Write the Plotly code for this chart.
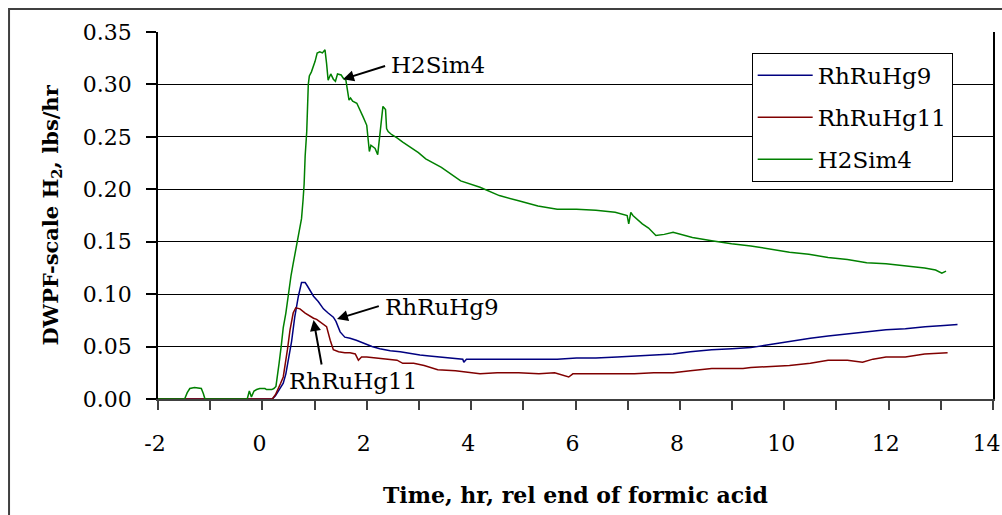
import plotly.graph_objects as go

# Time relative to end of formic acid addition (hr) and DWPF-scale H2 rate (lbs/hr)
rh9_time = [-2, 0.19, 0.25, 0.30, 0.35, 0.40, 0.45, 0.50, 0.56, 0.62, 0.69, 0.75, 0.82,
            0.86, 0.91, 0.98, 1.07, 1.17, 1.26, 1.36, 1.41, 1.45, 1.49, 1.58, 1.68, 1.80,
            1.95, 2.10, 2.25, 2.45, 2.64, 2.85, 3.02, 3.20, 3.43, 3.70, 3.84, 3.86, 3.91,
            4.2, 4.6, 4.91, 5.3, 5.65, 6.02, 6.39, 6.8, 7.13, 7.5, 7.87, 8.2, 8.61, 9.0,
            9.36, 9.73, 10.10, 10.5, 10.84, 11.2, 11.58, 11.95, 12.32, 12.7, 13.06, 13.32]
rh9_h2 = [0, 0, 0.003, 0.007, 0.011, 0.015, 0.024, 0.037, 0.055, 0.078, 0.098, 0.111, 0.111,
          0.108, 0.104, 0.098, 0.093, 0.086, 0.082, 0.078, 0.074, 0.069, 0.064, 0.059, 0.058,
          0.056, 0.053, 0.050, 0.048, 0.046, 0.045, 0.043, 0.042, 0.041, 0.040, 0.039, 0.038,
          0.035, 0.038, 0.038, 0.038, 0.038, 0.038, 0.038, 0.039, 0.039, 0.040, 0.041, 0.042,
          0.043, 0.045, 0.047, 0.048, 0.049, 0.052, 0.055, 0.058, 0.060, 0.062, 0.064, 0.066,
          0.067, 0.069, 0.070, 0.071]

rh11_time = [-2, 0.19, 0.25, 0.30, 0.35, 0.40, 0.44, 0.48, 0.53, 0.59, 0.64, 0.72, 0.82, 0.91,
             0.98, 1.04, 1.14, 1.23, 1.30, 1.36, 1.46, 1.58, 1.68, 1.78, 1.84, 1.90, 2.00,
             2.25, 2.58, 2.69, 2.90, 3.10, 3.36, 3.7, 4.0, 4.17, 4.5, 4.91, 5.3, 5.6, 5.87,
             5.95, 6.39, 6.8, 7.13, 7.5, 7.87, 8.2, 8.61, 8.9, 9.21, 9.36, 9.7, 10.10, 10.5,
             10.84, 11.21, 11.50, 11.7, 11.95, 12.32, 12.69, 13.13]
rh11_h2 = [0, 0, 0.004, 0.009, 0.015, 0.021, 0.032, 0.047, 0.066, 0.082, 0.087, 0.086, 0.082,
           0.079, 0.077, 0.076, 0.072, 0.069, 0.056, 0.047, 0.045, 0.044, 0.044, 0.043, 0.037,
           0.040, 0.040, 0.039, 0.037, 0.034, 0.034, 0.032, 0.028, 0.027, 0.025, 0.024, 0.025,
           0.025, 0.024, 0.025, 0.021, 0.024, 0.024, 0.024, 0.024, 0.025, 0.025, 0.027, 0.029,
           0.029, 0.029, 0.030, 0.031, 0.032, 0.034, 0.037, 0.037, 0.035, 0.038, 0.040, 0.040,
           0.043, 0.044]

sim4_time = [-2, -1.49, -1.44, -1.39, -1.30, -1.17, -1.13, -1.10, -0.29, -0.25, -0.21, -0.16,
             -0.11, -0.05, 0.05, 0.08, 0.18, 0.22, 0.26, 0.28, 0.32, 0.36, 0.40, 0.45, 0.50,
             0.55, 0.59, 0.64, 0.69, 0.75, 0.78, 0.80, 0.82, 0.85, 0.88, 0.90, 0.94, 1.01,
             1.05, 1.10, 1.15, 1.20, 1.23, 1.26, 1.31, 1.36, 1.40, 1.44, 1.51, 1.55, 1.60,
             1.63, 1.66, 1.69, 1.73, 1.81, 1.87, 1.93, 2.00, 2.03, 2.05, 2.08, 2.16, 2.21,
             2.26, 2.31, 2.36, 2.38, 2.41, 2.48, 2.58, 2.69, 2.99, 3.13, 3.43, 3.80, 4.17,
             4.54, 4.91, 5.28, 5.65, 6.02, 6.39, 6.76, 6.99, 7.02, 7.06, 7.10, 7.28, 7.40,
             7.54, 7.70, 7.87, 8.24, 8.61, 8.99, 9.36, 9.73, 10.10, 10.47, 10.84, 11.21,
             11.58, 11.95, 12.32, 12.69, 12.9, 13.02, 13.10]
sim4_h2 = [0, 0, 0.006, 0.010, 0.011, 0.010, 0.005, 0, 0, 0.0076, 0.002, 0.0076, 0.009, 0.010,
           0.010, 0.009, 0.009, 0.010, 0.012, 0.018, 0.034, 0.050, 0.068, 0.082, 0.102, 0.118,
           0.129, 0.143, 0.155, 0.172, 0.190, 0.205, 0.232, 0.255, 0.300, 0.308, 0.312, 0.322,
           0.330, 0.331, 0.330, 0.333, 0.320, 0.304, 0.310, 0.305, 0.303, 0.310, 0.309, 0.306,
           0.304, 0.296, 0.285, 0.287, 0.284, 0.282, 0.276, 0.269, 0.261, 0.247, 0.236, 0.242,
           0.239, 0.233, 0.257, 0.279, 0.276, 0.258, 0.255, 0.252, 0.249, 0.245, 0.235, 0.229,
           0.221, 0.208, 0.202, 0.194, 0.189, 0.184, 0.181, 0.181, 0.180, 0.178, 0.175, 0.167,
           0.178, 0.175, 0.167, 0.163, 0.156, 0.157, 0.159, 0.154, 0.151, 0.148, 0.146, 0.143,
           0.140, 0.138, 0.135, 0.133, 0.130, 0.129, 0.127, 0.125, 0.123, 0.120, 0.122]

series_names = ["RhRuHg9", "RhRuHg11", "H2Sim4"]
series_colors = ["#000080", "#800000", "#008000"]

x_tick_vals = [-2, 0, 2, 4, 6, 8, 10, 12, 14]
x_tick_text = ["-2", "0", "2", "4", "6", "8", "10", "12", "14\u00a0"]

# Callout labels: (text, arrow tip x, tip y, arrow tail x, tail y, text x, text y)
callouts = [
    ("H2Sim4", 1.545, 0.305, 2.38, 0.318, 2.43, 0.319),
    ("RhRuHg9", 1.43, 0.0763, 2.26, 0.089, 2.32, 0.088),
    ("RhRuHg11", 0.98, 0.0753, 1.14, 0.0315, 0.47, 0.017),
]

SERIF = "DejaVu Serif"

fig = go.Figure()
for xs, ys, name, color in zip([rh9_time, rh11_time, sim4_time],
                               [rh9_h2, rh11_h2, sim4_h2],
                               series_names, series_colors):
    fig.add_trace(go.Scatter(x=xs, y=ys, mode="lines", name=name, legendgroup=name,
                             line=dict(color=color, width=1.5)))

for text, tx, ty, ax, ay, lx, ly in callouts:
    fig.add_annotation(x=tx, y=ty, ax=ax, ay=ay, xref="x", yref="y", axref="x", ayref="y",
                       text="", showarrow=True, arrowhead=2, arrowsize=1.1,
                       arrowwidth=2, arrowcolor="black", standoff=0, startstandoff=0)
    fig.add_annotation(x=lx, y=ly, xref="x", yref="y", text=text, showarrow=False,
                       xanchor="left", yanchor="middle",
                       font=dict(family=SERIF, size=23, color="black"))

# Axis titles
fig.add_annotation(x=0.5, y=-0.262, xref="paper", yref="paper",
                   text="<b>Time, hr, rel end of formic acid</b>", showarrow=False,
                   xanchor="center", yanchor="middle",
                   font=dict(family=SERIF, size=22, color="black"))
fig.add_annotation(x=-0.128, y=0.5, xref="paper", yref="paper",
                   text="<b>DWPF-scale H<sub>2</sub>, lbs/hr</b>", showarrow=False,
                   textangle=-90, xanchor="center", yanchor="middle",
                   font=dict(family=SERIF, size=21, color="black"))

# Outer chart frame
fig.add_shape(type="rect", xref="paper", yref="paper",
              x0=-0.1784, x1=1.02, y0=-0.35, y1=1.0627,
              line=dict(color="#404040", width=2), fillcolor="rgba(0,0,0,0)", layer="below")

fig.update_layout(
    width=1002, height=515,
    margin=dict(l=158, r=9, t=32, b=116, autoexpand=False),
    paper_bgcolor="white", plot_bgcolor="white",
    font=dict(family=SERIF, size=22, color="black"),
    showlegend=True,
    legend=dict(x=0.711, y=0.943, xanchor="left", yanchor="top",
                bgcolor="white", bordercolor="black", borderwidth=1,
                font=dict(family=SERIF, size=23, color="black"),
                itemwidth=55, tracegroupgap=9),
    xaxis=dict(range=[-2, 14], tickmode="array", tickvals=x_tick_vals, ticktext=x_tick_text,
               showgrid=False, zeroline=False, automargin=False,
               showline=True, linecolor="#404040", linewidth=2,
               ticks="outside", ticklen=9, tickcolor="#404040", tickwidth=1.5,
               minor=dict(dtick=1, tick0=-2, ticks="outside", ticklen=9,
                          tickcolor="#404040", tickwidth=1.5),
               ticklabelstandoff=15, ticklabelshift=-3, ticklabeloverflow="allow",
               layer="below traces",
               tickfont=dict(family=SERIF, size=22, color="black")),
    yaxis=dict(range=[0, 0.35], dtick=0.05, tickformat=".2f", showgrid=True,
               gridcolor="black", gridwidth=1, zeroline=False, automargin=False,
               showline=True, linecolor="black", linewidth=1.5, mirror=True,
               ticks="outside", ticklen=10, tickcolor="black", tickwidth=1.5,
               ticklabelstandoff=10, layer="below traces",
               tickfont=dict(family=SERIF, size=22, color="black")),
)

fig.write_html("out.html")
